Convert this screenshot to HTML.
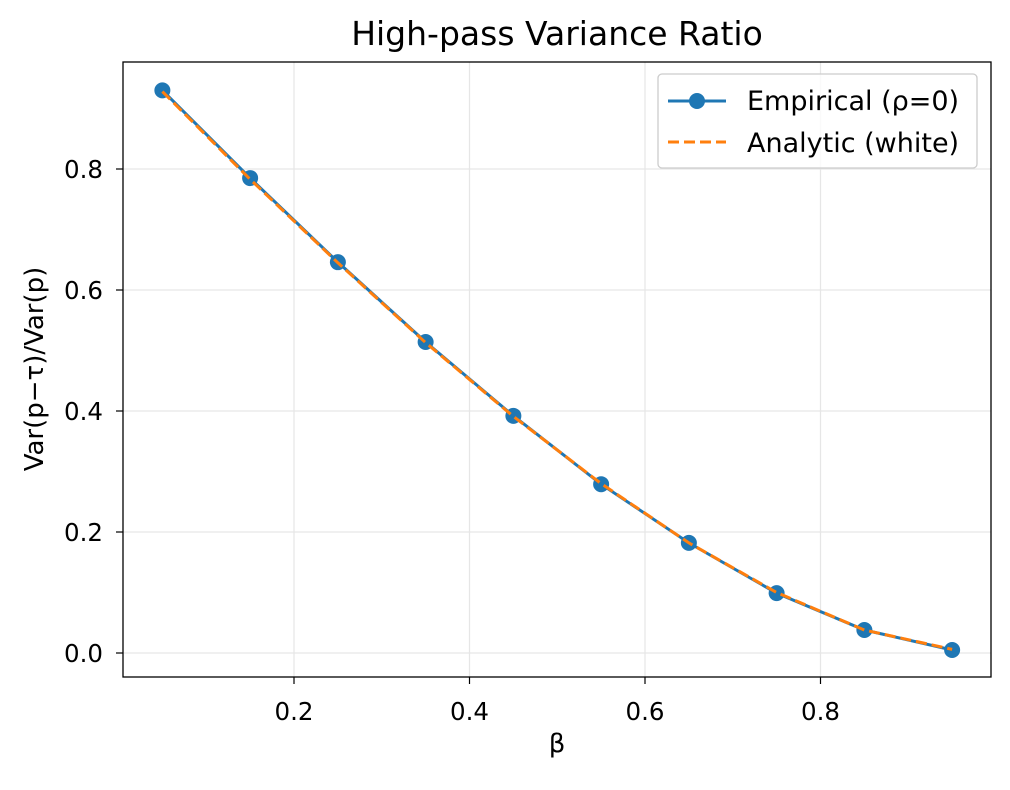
<!DOCTYPE html>
<html><head><meta charset="utf-8"><style>
body{margin:0;background:#fff;}
svg text{font-family:"DejaVu Sans","Liberation Sans",sans-serif;fill:#000;}
</style></head><body>
<svg id="chart" width="1010" height="785" xmlns="http://www.w3.org/2000/svg">
<rect width="1010" height="785" fill="#fff"/>
<g id="grid"></g>
<g id="series"></g>
<rect x="123" y="62" width="868" height="615" fill="none" stroke="#000" stroke-width="1.3"/>
<g id="ticks"></g>
<text x="557" y="45" font-size="33" text-anchor="middle">High-pass Variance Ratio</text>
<text x="557" y="752" font-size="26" text-anchor="middle">β</text>
<text transform="translate(43,369) rotate(-90)" font-size="26" text-anchor="middle">Var(p−τ)/Var(p)</text>
<g>
<rect x="658" y="74" width="319" height="94" rx="4" fill="#fff" fill-opacity="0.8" stroke="#ccc" stroke-width="1.3"/>
<line x1="668" y1="101" x2="726" y2="101" stroke="#1f77b4" stroke-width="3"/>
<circle cx="697" cy="101" r="8" fill="#1f77b4"/>
<text x="747" y="110" font-size="27">Empirical (ρ=0)</text>
<line x1="668" y1="142" x2="726" y2="142" stroke="#ff7f0e" stroke-width="3" stroke-dasharray="11,5"/>
<text x="747" y="152" font-size="27">Analytic (white)</text>
</g>
</svg>
<script>
const betas=[0.05,0.15,0.25,0.35,0.45,0.55,0.65,0.75,0.85,0.95];
const empirical=[0.930,0.785,0.646,0.514,0.392,0.279,0.182,0.099,0.038,0.005];
const analytic=[0.928,0.783,0.645,0.513,0.391,0.280,0.182,0.100,0.038,0.006];
const xTicks=[0.2,0.4,0.6,0.8];
const yTicks=[0.0,0.2,0.4,0.6,0.8];
const NS="http://www.w3.org/2000/svg";
const X=v=>118.5+v*877.5;
const Y=v=>653-v*605;
function mk(t,a,p){const e=document.createElementNS(NS,t);for(const k in a)e.setAttribute(k,a[k]);p.appendChild(e);return e;}
const grid=document.getElementById('grid'),ticks=document.getElementById('ticks'),series=document.getElementById('series');
xTicks.forEach(v=>{
 const g=mk('line',{x1:X(v),x2:X(v),y1:62,y2:677,stroke:'#e6e6e6','stroke-width':1.2},grid);
 
 
 const t=mk('line',{x1:X(v),x2:X(v),y1:677,y2:684,stroke:'#000','stroke-width':1.2},ticks);
 
 
 const l=mk('text',{x:X(v),y:720,'font-size':24.5,'text-anchor':'middle'},ticks);l.textContent=v.toFixed(1);
 
 
});
yTicks.forEach(v=>{
 const g=mk('line',{x1:123,x2:991,y1:Y(v),y2:Y(v),stroke:'#e6e6e6','stroke-width':1.2},grid);
 
 
 const t=mk('line',{x1:116,x2:123,y1:Y(v),y2:Y(v),stroke:'#000','stroke-width':1.2},ticks);
 
 
 const l=mk('text',{x:103,y:Y(v)+9,'font-size':24.5,'text-anchor':'end'},ticks);l.textContent=v.toFixed(1);
 
 
});
const p1=mk('polyline',{points:betas.map((b,i)=>X(b)+','+Y(empirical[i])).join(' '),fill:'none',stroke:'#1f77b4','stroke-width':3},series);


betas.forEach((b,i)=>{
 const c=mk('circle',{cx:X(b),cy:Y(empirical[i]),r:8,fill:'#1f77b4'},series);
 
 
});
const p2=mk('polyline',{points:betas.map((b,i)=>X(b)+','+Y(analytic[i])).join(' '),fill:'none',stroke:'#ff7f0e','stroke-width':3,'stroke-dasharray':'11,5'},series);


</script>
</body></html>
